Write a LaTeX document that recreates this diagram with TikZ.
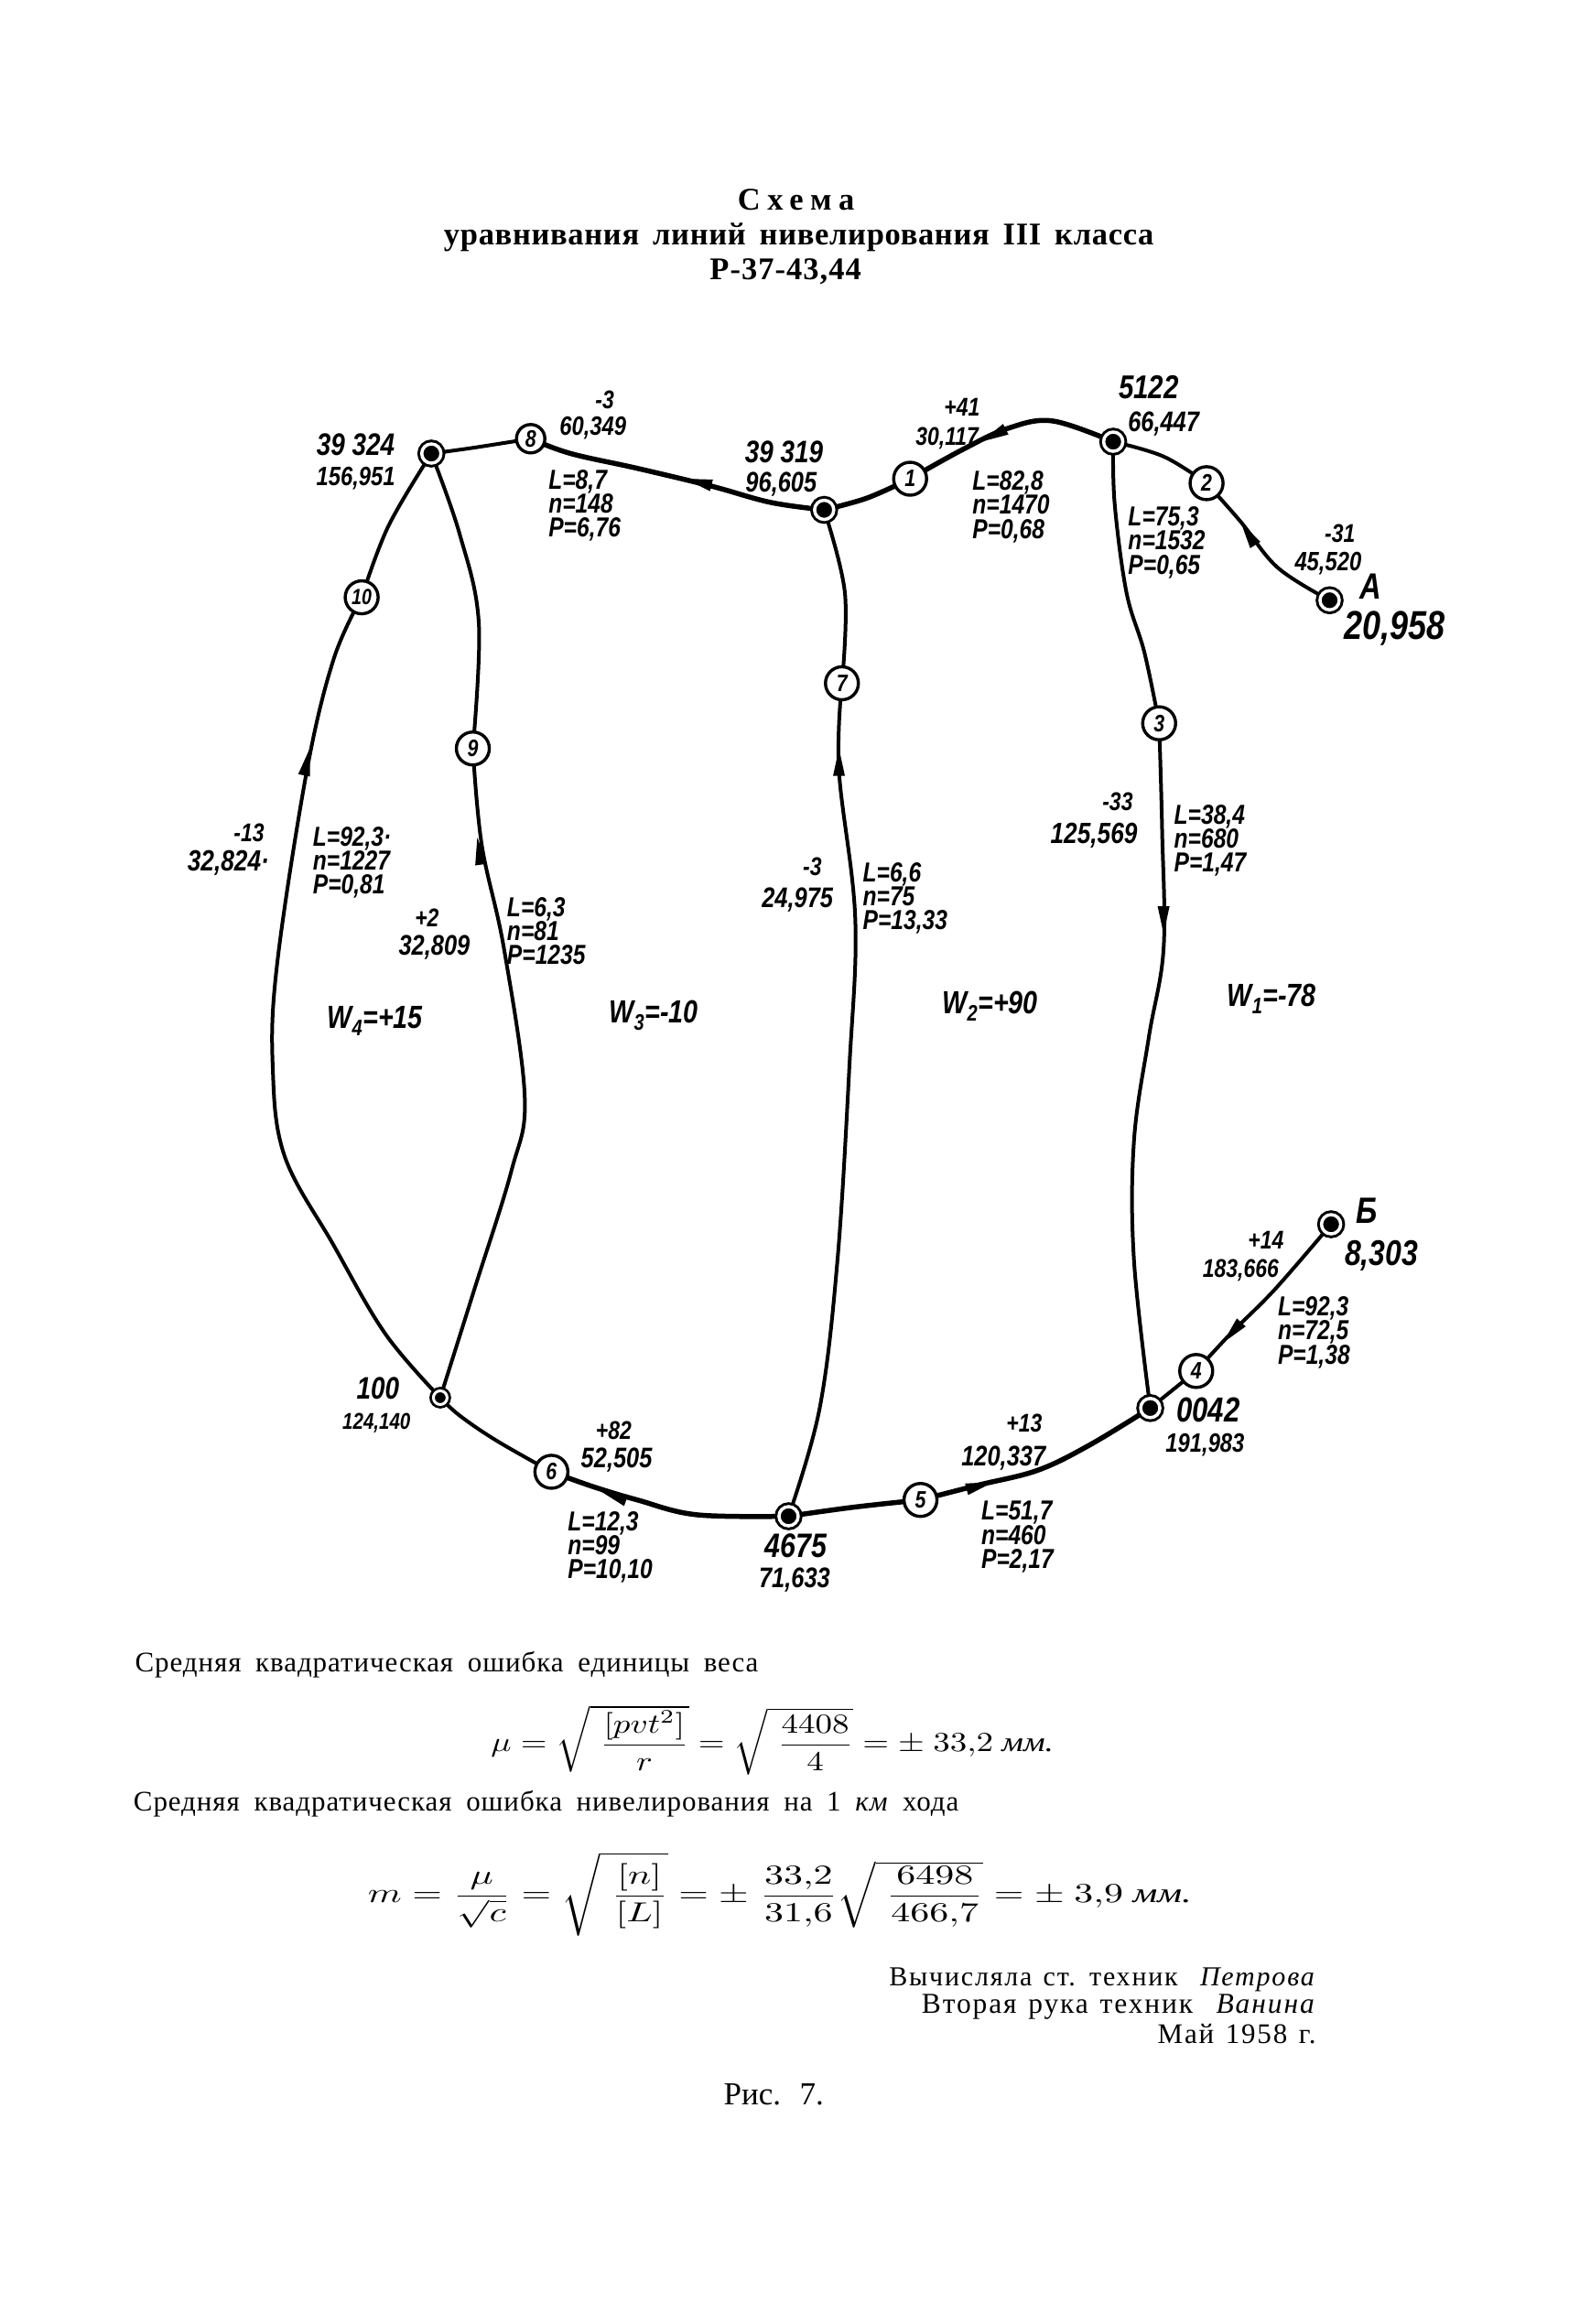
\documentclass[tikz,border=0pt]{standalone}
\usepackage{fontspec}
\usepackage{amsmath}
\setmainfont{Liberation Serif}
\newfontfamily\hand[FakeStretch=0.82]{Liberation Sans}
\newfontfamily\bodyf[LetterSpace=3,WordSpace=1.8]{Liberation Serif}
\newfontfamily\signf[LetterSpace=6,WordSpace=1.3]{Liberation Serif}
\newfontfamily\titlesp[LetterSpace=2,WordSpace=1.6]{Liberation Serif}
\usetikzlibrary{arrows.meta}
\newcommand\hf[1]{\hand\bfseries\itshape\fontsize{#1}{#1}\selectfont}
\newcommand\hfl[1]{\hand\bfseries\itshape\fontsize{#1}{26.2}\selectfont}
\newcommand\wedgeat[3]{\fill[shift={(#1,#2)},rotate=#3] (0pt,0pt) -- (-30pt,6.5pt) -- (-30pt,-6.5pt) -- cycle;}
\pgfdeclarelayer{lines}
\pgfsetlayers{lines,main}
\tikzset{
  station/.style={circle,fill=black,inner sep=0pt,minimum size=21pt,draw=black,double=white,double distance=3.5pt,line width=3pt},
  numbered/.style={circle,fill=white,draw=black,line width=3.4pt,inner sep=0pt,minimum size=36pt,font=\hf{26}},
  conn/.style={line width=4pt,line cap=round,draw=black},
  heavy/.style={line width=5.5pt,line cap=round,draw=black},
  small/.style={font=\hf{#1},inner sep=0pt},
  small/.default=28,
  mid/.style={font=\hf{#1},inner sep=0pt},
  mid/.default=34,
  tri/.style={font=\hfl{30},inner sep=0pt,align=left,anchor=west},
  wlab/.style={font=\hf{35},inner sep=0pt},
  body/.style={inner sep=0pt,font=\bodyf\fontsize{31}{31}\selectfont},
  sign/.style={inner sep=0pt,anchor=east,font=\signf\fontsize{#1}{#1}\selectfont},
  sign/.default=31,
  titlef/.style={inner sep=0pt,font=\bfseries\fontsize{34.5}{34.5}\selectfont}
}
\begin{document}
\begin{tikzpicture}[x=1.619pt,y=-1.619pt]
\useasboundingbox (0,0) rectangle (1058,1568);
% title
\node[titlef] (t1) at (537,135) {\addfontfeature{LetterSpace=22}Схема};
\node[titlef] (t2) at (539,160) {\titlesp\bfseries уравнивания линий нивелирования III класса};
\node[titlef] (t3) at (530,183) {\addfontfeature{LetterSpace=3}Р-37-43,44};
% stations
\node[station] (n39324) at (291,306) {};
\node[station] (n39319) at (556,344) {};
\node[station] (n5122) at (751,298) {};
\node[station] (nA) at (897,405) {};
\node[station] (nB) at (898,826) {};
\node[station] (n0042) at (776,950) {};
\node[station] (n4675) at (532,1023) {};
\node[station,minimum size=15pt,line width=2.8pt,double distance=3pt] (n100) at (297,943) {};
% numbered points
\node[numbered] (p1) at (614,323) {1};
\node[numbered] (p2) at (814,326) {2};
\node[numbered] (p3) at (782,488) {3};
\node[numbered] (p4) at (807,925) {4};
\node[numbered] (p5) at (621,1012) {5};
\node[numbered] (p6) at (372,993) {6};
\node[numbered] (p7) at (568,461) {7};
\node[numbered,minimum size=31pt] (p8) at (358,296) {8};
\node[numbered] (p9) at (319,505) {9};
\node[numbered,font=\hf{24}] (p10) at (244,403) {10};
% connectors
\begin{pgfonlayer}{lines}
\draw[conn] plot[smooth,tension=.6] coordinates {(n39324) (320,302) (p8)};
\draw[heavy] plot[smooth,tension=.6] coordinates {(n39319) (520,339) (480,328) (430,316) (385,306) (p8)};
\draw[heavy] plot[smooth,tension=.6] coordinates {(n39319) (585,336) (p1)};
\draw[heavy] plot[smooth,tension=.6] coordinates {(n5122) (710,284) (680,289) (650,303) (p1)};
\draw[conn] plot[smooth,tension=.6] coordinates {(n5122) (785,308) (p2)};
\draw[conn] plot[smooth,tension=.6] coordinates {(nA) (862,383) (837,352) (p2)};
\draw[conn] plot[smooth,tension=.6] coordinates {(n5122) (752,340) (760,400) (772,440) (p3)};
\draw[conn] plot[smooth,tension=.6] coordinates {(p3) (784,560) (785,640) (775,700) (765,770) (765,850) (n0042)};
\draw[heavy] plot[smooth,tension=.6] coordinates {(p5) (660,1002) (700,992) (735,975) (n0042)};
\draw[heavy] plot[smooth,tension=.6] coordinates {(n4675) (575,1017) (p5)};
\draw[heavy] plot[smooth,tension=.6] coordinates {(n4675) (470,1022) (430,1012) (400,1003) (p6)};
\draw[conn] plot[smooth,tension=.6] coordinates {(p6) (335,972) (310,955) (n100)};
\draw[conn] plot[smooth,tension=.6] coordinates {(n100) (260,900) (225,840) (192,780) (184,720) (187,650) (207,520) (225,445) (p10)};
\draw[conn] plot[smooth,tension=.6] coordinates {(p10) (262,355) (n39324)};
\draw[conn] plot[smooth,tension=.6] coordinates {(n100) (320,870) (345,790) (354,740) (340,640) (325,570) (p9)};
\draw[conn] plot[smooth,tension=.6] coordinates {(p9) (323,420) (310,360) (n39324)};
\draw[conn] plot[smooth,tension=.6] coordinates {(n4675) (553,950) (565,850) (573,720) (577,620) (566,520) (p7)};
\draw[conn] plot[smooth,tension=.6] coordinates {(p7) (570,400) (n39319)};
\draw[conn] plot[smooth,tension=.6] coordinates {(nB) (860,870) (830,900) (p4)};
\draw[conn] (p4) -- (n0042);
\wedgeat{462}{323}{166}
\wedgeat{662}{298}{207}
\wedgeat{837}{352}{122}
\wedgeat{785}{630}{270}
\wedgeat{670}{1000}{15}
\wedgeat{825}{906}{228}
\wedgeat{405}{1006}{160}
\wedgeat{209}{505}{78}
\wedgeat{322}{565}{98}
\wedgeat{566}{505}{90}
\end{pgfonlayer}
% station labels
\node[mid] (a1) at (240,300) {39 324};
\node[small=29] (a2) at (240,323) {156,951};
\node[mid] (b1) at (529,305) {39 319};
\node[small=31] (b2) at (527,327) {96,605};
\node[mid=36] (c1) at (775,261) {5122};
\node[small=31] (c2) at (785,286) {66,447};
\node[mid=40] (d1) at (925,396) {A};
\node[inner sep=0pt,font=\hf{44}] (d2) at (941,424) {20,958};
\node[mid=40] (e1) at (922,817) {Б};
\node[inner sep=0pt,font=\hf{39}] (e2) at (932,847) {8,303};
\node[mid=38] (f1) at (815,951) {0042};
\node[small=29] (f2) at (813,975) {191,983};
\node[mid=37] (g1) at (537,1043) {4675};
\node[small=31] (g2) at (536,1066) {71,633};
\node[mid] (h1) at (255,937) {100};
\node[small=25] (h2) at (254,960) {124,140};
% corrections and measured values
\node[small] (i1) at (408,270) {-3};
\node[small=29] (i2) at (400,289) {60,349};
\node[small] (j1) at (649,275) {+41};
\node[small] (j2) at (639,296) {30,117};
\node[small] (k1) at (904,360) {-31};
\node[small=29] (k2) at (896,380) {45,520};
\node[small] (l1) at (168,562) {-13};
\node[small=32] (l2) at (154,582) {32,824·};
\node[small] (m1) at (288,619) {+2};
\node[small=31] (m2) at (293,639) {32,809};
\node[small] (o1) at (548,585) {-3};
\node[small=31] (o2) at (538,607) {24,975};
\node[small] (q1) at (754,541) {-33};
\node[small=32] (q2) at (738,564) {125,569};
\node[small] (r1) at (854,837) {+14};
\node[small] (r2) at (837,857) {183,666};
\node[small] (s1) at (691,960) {+13};
\node[small=31] (s2) at (677,984) {120,337};
\node[small] (u1) at (414,965) {+82};
\node[small=31] (u2) at (416,985) {52,505};
% L n P blocks
\node[tri] (v8) at (370,341) {L=8,7\\n=148\\P=6,76};
\node[tri] (v1) at (656,342) {L=82,8\\n=1470\\P=0,68};
\node[tri] (v2) at (761,366) {L=75,3\\n=1532\\P=0,65};
\node[tri] (v10) at (211,582) {L=92,3·\\n=1227\\P=0,81};
\node[tri] (v9) at (342,628) {L=6,3\\n=81\\P=1235};
\node[tri] (v7) at (582,606) {L=6,6\\n=75\\P=13,33};
\node[tri] (v3) at (792,567) {L=38,4\\n=680\\P=1,47};
\node[tri] (v4) at (862,899) {L=92,3\\n=72,5\\P=1,38};
\node[tri] (v5) at (662,1037) {L=51,7\\n=460\\P=2,17};
\node[tri] (v6) at (383,1044) {L=12,3\\n=99\\P=10,10};
% misclosures
\node[wlab] (w4) at (253,689) {W\textsubscript{4}=+15};
\node[wlab] (w3) at (441,685) {W\textsubscript{3}=-10};
\node[wlab] (w2) at (668,679) {W\textsubscript{2}=+90};
\node[wlab] (w1) at (858,674) {W\textsubscript{1}=-78};
% lower text
\node[body,anchor=west] (x1) at (91,1123) {Средняя квадратическая ошибка единицы веса};
\node[inner sep=0pt,xscale=3.7,yscale=3] (x2) at (521,1174) {$\mu=\sqrt{\;\dfrac{[pvt^2]}{r}}=\sqrt{\;\dfrac{4408}{4}}=\pm\ 33{,}2\ \mbox{\itshape мм.}$};
\node[body,anchor=west] (x3) at (90,1217) {Средняя квадратическая ошибка нивелирования на 1 \textit{км} хода};
\node[inner sep=0pt,xscale=4.2,yscale=3] (x4) at (526,1278) {$m=\dfrac{\mu}{\sqrt{c}}=\sqrt{\;\dfrac{[n]}{[L]}}=\pm\;\dfrac{33{,}2}{31{,}6}\sqrt{\;\dfrac{6498}{466{,}7}}=\pm\ 3{,}9\ \mbox{\itshape мм.}$};
\node[sign=30] (y1) at (888,1336) {Вычисляла ст. техник \ \textit{Петрова}};
\node[sign=31.5] (y2) at (888,1354) {Вторая рука техник \ \textit{Ванина}};
\node[sign] (y3) at (888,1372) {Май 1958 г.};
\node[inner sep=0pt,font=\fontsize{35}{35}\selectfont] (z) at (522,1413) {Рис. \ 7.};
\end{tikzpicture}
\end{document}
